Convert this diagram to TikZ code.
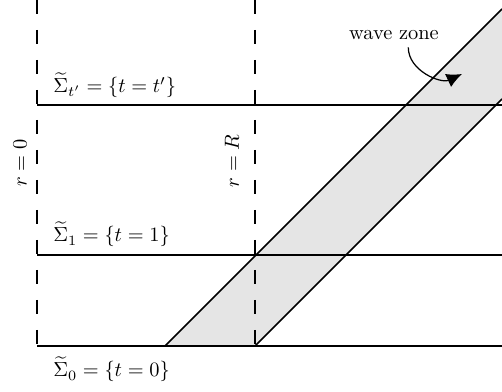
\documentclass[tikz,border=0pt]{standalone}
\usetikzlibrary{arrows.meta}
\tikzset{
  slice/.style={thick},
  radial/.style={thick, dash pattern=on 6.9pt off 7.8pt},
  band/.style={fill=black!10},
  lbl/.style={inner sep=0pt, anchor=base west},
  rlbl/.style={rotate=90, inner sep=0pt},
  arr/.style={-{Latex[length=7.5pt,width=7pt]}, semithick},
}
\begin{document}
\begin{tikzpicture}[x=0.49pt, y=0.49pt]
  \useasboundingbox (0,0) rectangle (502,392);

  % wave zone band
  \fill[band] (165,46) -- (255,46) -- (502,293) -- (502,383) -- cycle;

  % r = 0 and r = R
  \draw[radial] (37,392) -- (37,46);
  \draw[radial] (255,392) -- (255,46);

  % time slices
  \draw[slice] (37,46)  -- (502,46);
  \draw[slice] (37,137) -- (502,137);
  \draw[slice] (37,287) -- (502,287);

  % light rays
  \draw[slice] (165,46) -- (502,383);
  \draw[slice] (255,46) -- (502,293);

  % labels
  \node[lbl] (s0) at (53,15)  {$\widetilde{\Sigma}_0 = \{t = 0\}$};
  \node[lbl] (s1) at (53,150) {$\widetilde{\Sigma}_1 = \{t = 1\}$};
  \node[lbl] (st) at (53,299) {$\widetilde{\Sigma}_{t'} = \{t = t'\}$};
  \node[rlbl] (r0) at (20,229) {$r = 0$};
  \node[rlbl] (rR) at (232,231) {$r = R$};

  % wave zone
  \node[anchor=base] (wz) at (394,352) {wave zone};
  \coordinate (wztip) at (462,318);
  \draw[arr] ([xshift=7pt]wz.south) to[out=-90, in=205] (wztip);

\end{tikzpicture}
\end{document}
